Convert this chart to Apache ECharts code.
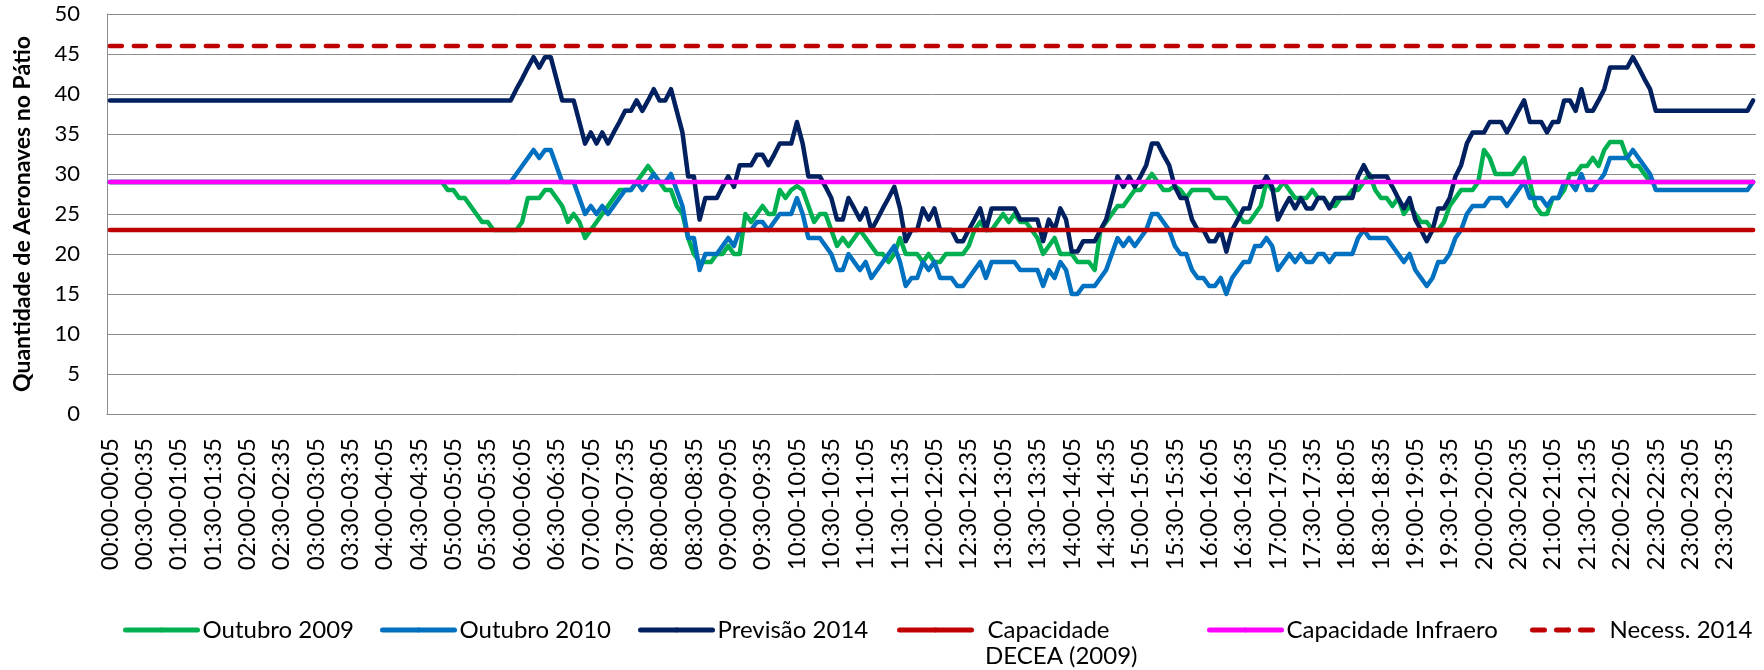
<!DOCTYPE html>
<html>
<head>
<meta charset="utf-8">
<script src="https://cdn.jsdelivr.net/npm/echarts@6/dist/echarts.min.js"></script>
<style>
  html, body { margin: 0; padding: 0; background: #fff; }
  #chart { width: 1764px; height: 670px; }
</style>
</head>
<body>
<div id="chart"></div>
<script>
// ---- categories: 5-minute intervals over a day ----
function pad(n) { return (n < 10 ? '0' : '') + n; }
const categories = [];
for (let m = 0; m < 24 * 60; m += 5) {
  const e = m + 5;
  categories.push(pad(Math.floor(m / 60)) + ':' + pad(m % 60) + '-' + pad(Math.floor(e / 60)) + ':' + pad(e % 60));
}

// ---- series values (one row per hour, 12 x 5-minute slots) ----
const outubro2009 = [
  29,29,29,29,29,29,29,29,29,29,29,29,
  29,29,29,29,29,29,29,29,29,29,29,29,
  29,29,29,29,29,29,29,29,29,29,29,29,
  29,29,29,29,29,29,29,29,29,29,29,29,
  29,29,29,29,29,29,29,29,29,29,29,28,
  28,27,27,26,25,24,24,23,23,23,23,23,
  24,27,27,27,28,28,27,26,24,25,24,22,
  23,24,25,26,27,28,28,28,29,30,31,30,
  29,28,28,26,25,22,20,19,19,19,20,20,
  21,20,20,25,24,25,26,25,25,28,27,28,
  28.5,28,26,24,25,25,23,21,22,21,22,23,
  22,21,20,20,19,20,22,20,20,20,19,20,
  19,19,20,20,20,20,21,23,24,23,23,24,
  25,24,25,24,24,23,22,20,21,22,20,20,
  20,19,19,19,18,23,24,25,26,26,27,28,
  28,29,30,29,28,28,28.5,28,27,28,28,28,
  28,27,27,27,26,25,24,24,25,26,29,28,
  28,29,28,27,27,27,28,27,27,26,26,27,
  27,28,28,29,30,28,27,27,26,27,25,26,
  25,24,24,23,23,24,26,27,28,28,28,29,
  33,32,30,30,30,30,31,32,29,26,25,25,
  27,27,28,30,30,31,31,32,31,33,34,34,
  34,32,31,31,30,29,29,29,29,29,29,29,
  29,29,29,29,29,29,29,29,29,29,29,29
];

const outubro2010 = [
  29,29,29,29,29,29,29,29,29,29,29,29,
  29,29,29,29,29,29,29,29,29,29,29,29,
  29,29,29,29,29,29,29,29,29,29,29,29,
  29,29,29,29,29,29,29,29,29,29,29,29,
  29,29,29,29,29,29,29,29,29,29,29,29,
  29,29,29,29,29,29,29,29,29,29,29,30,
  31,32,33,32,33,33,31,29,29,29,27,25,
  26,25,26,25,26,27,28,28,29,28,29,30,
  29,29,30,28,26,22,22,18,20,20,20,21,
  22,21,23,23,23,24,24,23,24,25,25,25,
  27,25,22,22,22,21,20,18,18,20,19,18,
  19,17,18,19,20,21,19,16,17,17,19,18,
  19,17,17,17,16,16,17,18,19,17,19,19,
  19,19,19,18,18,18,18,16,18,17,19,18,
  15,15,16,16,16,17,18,20,22,21,22,21,
  22,23,25,25,24,23,21,20,20,18,17,17,
  16,16,17,15,17,18,19,19,21,21,22,21,
  18,19,20,19,20,19,19,20,20,19,20,20,
  20,20,22,23,22,22,22,22,21,20,19,20,
  18,17,16,17,19,19,20,22,23,25,26,26,
  26,27,27,27,26,27,28,29,27,27,27,26,
  27,27,29,29,28,30,28,28,29,30,32,32,
  32,32,33,32,31,30,28,28,28,28,28,28,
  28,28,28,28,28,28,28,28,28,28,28,29
];

const previsao2014 = [
  39.2,39.2,39.2,39.2,39.2,39.2,39.2,39.2,39.2,39.2,39.2,39.2,
  39.2,39.2,39.2,39.2,39.2,39.2,39.2,39.2,39.2,39.2,39.2,39.2,
  39.2,39.2,39.2,39.2,39.2,39.2,39.2,39.2,39.2,39.2,39.2,39.2,
  39.2,39.2,39.2,39.2,39.2,39.2,39.2,39.2,39.2,39.2,39.2,39.2,
  39.2,39.2,39.2,39.2,39.2,39.2,39.2,39.2,39.2,39.2,39.2,39.2,
  39.2,39.2,39.2,39.2,39.2,39.2,39.2,39.2,39.2,39.2,39.2,40.6,
  41.9,43.3,44.6,43.3,44.6,44.6,41.9,39.2,39.2,39.2,36.5,33.8,
  35.2,33.8,35.2,33.8,35.2,36.5,37.9,37.9,39.2,37.9,39.2,40.6,
  39.2,39.2,40.6,37.9,35.2,29.7,29.7,24.3,27.0,27.0,27.0,28.4,
  29.7,28.4,31.1,31.1,31.1,32.4,32.4,31.1,32.4,33.8,33.8,33.8,
  36.5,33.8,29.7,29.7,29.7,28.4,27.0,24.3,24.3,27.0,25.7,24.3,
  25.7,23.0,24.3,25.7,27.0,28.4,25.7,21.6,23.0,23.0,25.7,24.3,
  25.7,23.0,23.0,23.0,21.6,21.6,23.0,24.3,25.7,23.0,25.7,25.7,
  25.7,25.7,25.7,24.3,24.3,24.3,24.3,21.6,24.3,23.0,25.7,24.3,
  20.3,20.3,21.6,21.6,21.6,23.0,24.3,27.0,29.7,28.4,29.7,28.4,
  29.7,31.1,33.8,33.8,32.4,31.1,28.4,27.0,27.0,24.3,23.0,23.0,
  21.6,21.6,23.0,20.3,23.0,24.3,25.7,25.7,28.4,28.4,29.7,28.4,
  24.3,25.7,27.0,25.7,27.0,25.7,25.7,27.0,27.0,25.7,27.0,27.0,
  27.0,27.0,29.7,31.1,29.7,29.7,29.7,29.7,28.4,27.0,25.7,27.0,
  24.3,23.0,21.6,23.0,25.7,25.7,27.0,29.7,31.1,33.8,35.2,35.2,
  35.2,36.5,36.5,36.5,35.2,36.5,37.9,39.2,36.5,36.5,36.5,35.2,
  36.5,36.5,39.2,39.2,37.9,40.6,37.9,37.9,39.2,40.6,43.3,43.3,
  43.3,43.3,44.6,43.3,41.9,40.6,37.9,37.9,37.9,37.9,37.9,37.9,
  37.9,37.9,37.9,37.9,37.9,37.9,37.9,37.9,37.9,37.9,37.9,39.2
];

// constant reference levels
const capacidadeDECEA = 23;
const capacidadeInfraero = 29;
const necess2014 = 46;

// y axis ticks
const yMin = 0, yMax = 50, yStep = 5;

const names = ['Outubro 2009', 'Outubro 2010', 'Previsão 2014',
               'Capacidade DECEA (2009)', 'Capacidade Infraero', 'Necess. 2014'];
const colors = ['#00B050', '#0070C0', '#002060', '#C00000', '#FF00FF', '#C00000'];

function constLine(v) { return categories.map(function () { return v; }); }

const FONT = 'Lato';
const LEG_TOP = 617;
const chart = echarts.init(document.getElementById('chart'), null, { renderer: 'canvas' });

function lineSeries(name, data, color, extra) {
  return Object.assign({
    name: name, type: 'line', data: data,
    symbol: 'none', showSymbol: false, smooth: false,
    lineStyle: { color: color, width: 4.5, cap: 'round', join: 'round' },
    itemStyle: { color: color },
    emphasis: { disabled: true },
    animation: false
  }, extra || {});
}

function legendAt(name, left, extraText, fmt) {
  const l = {
    data: [name], left: left, top: LEG_TOP, padding: 0,
    itemWidth: 72, itemHeight: 6, selectedMode: false,
    lineStyle: { width: 5 },
    textStyle: Object.assign({ fontFamily: FONT, fontSize: 24, color: '#000', lineHeight: 26 }, extraText || {})
  };
  if (fmt) l.formatter = fmt;
  return l;
}

const legends = [
  legendAt(names[0], 123),
  legendAt(names[1], 380),
  legendAt(names[2], 638),
  legendAt(names[3], 897, { padding: [0, 0, 0, 11] }, function () { return 'Capacidade'; }),
  legendAt(names[4], 1207),
  legendAt(names[5], 1530)
];

chart.setOption({
  animation: false,
  backgroundColor: '#fff',
  grid: { left: 107, right: 8, top: 14, bottom: 256, containLabel: false },
  legend: legends,
  graphic: [{
    type: 'text', x: 985, y: 656,
    style: { text: 'DECEA (2009)', fontFamily: FONT, fontSize: 24, fill: '#000',
             align: 'left', verticalAlign: 'middle' }
  }],
  xAxis: {
    type: 'category', data: categories, boundaryGap: true,
    axisLine: { show: true, lineStyle: { color: '#8c8c8c', width: 1 } },
    axisTick: { show: false },
    axisLabel: { interval: 5, rotate: 90, margin: 24, fontFamily: FONT, fontSize: 24, color: '#000' },
    splitLine: { show: false }
  },
  yAxis: {
    type: 'value', min: yMin, max: yMax, interval: yStep,
    name: 'Quantidade de Aeronaves no Pátio', nameLocation: 'middle', nameGap: 73,
    nameTextStyle: { fontFamily: FONT, fontSize: 23, fontWeight: 'bold', color: '#000' },
    axisLine: { show: true, lineStyle: { color: '#8c8c8c', width: 1 } },
    axisTick: { show: false },
    axisLabel: { margin: 27, fontFamily: FONT, fontSize: 22, color: '#000' },
    splitLine: { show: true, lineStyle: { color: '#8c8c8c', width: 1 } }
  },
  series: [
    lineSeries(names[0], outubro2009, colors[0]),
    lineSeries(names[1], outubro2010, colors[1]),
    lineSeries(names[2], previsao2014, colors[2]),
    lineSeries(names[3], constLine(capacidadeDECEA), colors[3]),
    lineSeries(names[4], constLine(capacidadeInfraero), colors[4]),
    lineSeries(names[5], constLine(necess2014), colors[5],
      { lineStyle: { color: colors[5], width: 4.5, type: [12, 12], cap: 'round', join: 'round' } })
  ]
});
</script>
</body>
</html>
